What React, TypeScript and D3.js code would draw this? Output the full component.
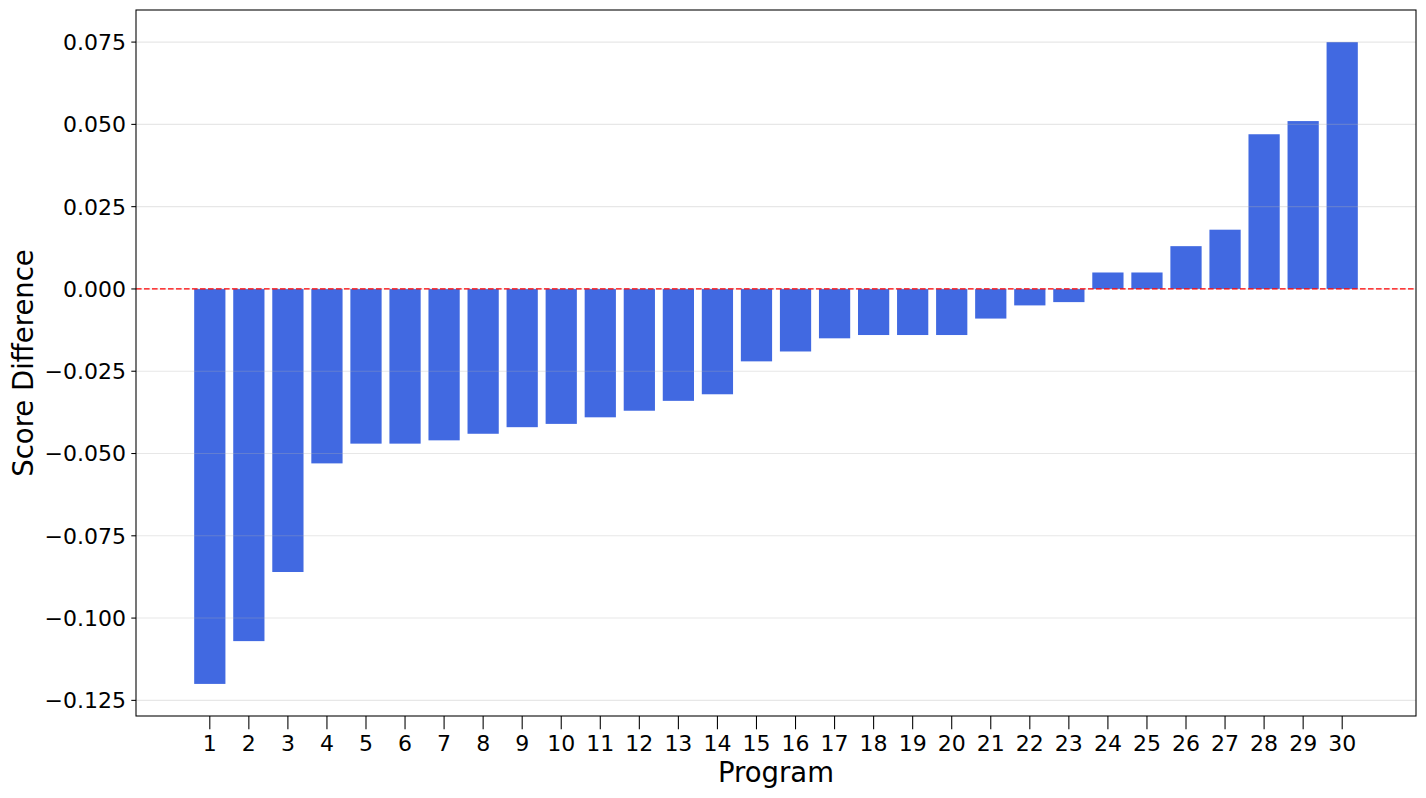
import React from "react";
import * as d3 from "d3";

const programs: number[] = [
  1, 2, 3, 4, 5, 6, 7, 8, 9, 10, 11, 12, 13, 14, 15, 16, 17, 18, 19, 20, 21, 22, 23, 24, 25, 26, 27, 28, 29, 30,
];
const scoreDiffs: number[] = [
  -0.12, -0.107, -0.086, -0.053, -0.047, -0.047, -0.046, -0.044, -0.042, -0.041, -0.039, -0.037, -0.034, -0.032,
  -0.022, -0.019, -0.015, -0.014, -0.014, -0.014, -0.009, -0.005, -0.004, 0.005, 0.005, 0.013, 0.018, 0.047, 0.051,
  0.075,
];
const yTicks: number[] = [-0.125, -0.1, -0.075, -0.05, -0.025, 0, 0.025, 0.05, 0.075];
const xLabel = "Program";
const yLabel = "Score Difference";

const W = 1426;
const H = 798;
const M = { left: 136, right: 1416, top: 10, bottom: 716 };
const FONT = "'DejaVu Sans', sans-serif";
const BAR_W = 0.8;

export default function App() {
  const xMinData = d3.min(programs)! - BAR_W / 2;
  const xMaxData = d3.max(programs)! + BAR_W / 2;
  const xPad = (xMaxData - xMinData) * 0.05;
  const x = d3.scaleLinear().domain([xMinData - xPad, xMaxData + xPad]).range([M.left, M.right]);

  const yMinData = Math.min(0, d3.min(scoreDiffs)!);
  const yMaxData = Math.max(0, d3.max(scoreDiffs)!);
  const yPad = (yMaxData - yMinData) * 0.05;
  const y = d3.scaleLinear().domain([yMinData - yPad, yMaxData + yPad]).range([M.bottom, M.top]);

  const fmt = (v: number) => d3.format(".3f")(Math.abs(v) < 1e-12 ? 0 : v).replace("-", "\u2212");
  const bw = x(BAR_W) - x(0);

  return (
    <div style={{ position: "fixed", left: 0, top: 0 }}>
      <svg width={W} height={H} style={{ display: "block", background: "#fff" }} fontFamily={FONT}>
        {programs.map((p, i) => {
          const v = scoreDiffs[i];
          return (
            <rect
              key={p}
              x={x(p) - bw / 2}
              y={y(Math.max(0, v))}
              width={bw}
              height={Math.abs(y(v) - y(0))}
              fill="#4169e1"
            />
          );
        })}
        {yTicks.map((t) => (
          <line
            key={"g" + t}
            x1={M.left}
            x2={M.right}
            y1={y(t)}
            y2={y(t)}
            stroke="#b0b0b0"
            strokeOpacity={0.3}
            strokeWidth={1.07}
          />
        ))}
        <line
          x1={M.left}
          x2={M.right}
          y1={y(0)}
          y2={y(0)}
          stroke="red"
          strokeWidth={1.33}
          strokeDasharray="5.6 2.4"
        />
        <rect
          x={M.left}
          y={M.top}
          width={M.right - M.left}
          height={M.bottom - M.top}
          fill="none"
          stroke="#000"
          strokeWidth={1.07}
        />
        {yTicks.map((t) => (
          <g key={"y" + t}>
            <line x1={M.left - 4.7} x2={M.left} y1={y(t)} y2={y(t)} stroke="#000" strokeWidth={1.07} />
            <text x={M.left - 10} y={y(t)} dy="0.36em" textAnchor="end" fontSize={22} fill="#000">
              {fmt(t)}
            </text>
          </g>
        ))}
        {programs.map((p) => (
          <g key={"x" + p}>
            <line x1={x(p)} x2={x(p)} y1={M.bottom} y2={M.bottom + 13.3} stroke="#000" strokeWidth={1.07} />
            <text x={x(p)} y={M.bottom + 34.7} textAnchor="middle" fontSize={22} fill="#000">
              {p}
            </text>
          </g>
        ))}
        <text x={(M.left + M.right) / 2} y={782} textAnchor="middle" fontSize={27.5} fill="#000">
          {xLabel}
        </text>
        <text
          transform={`translate(${33},${(M.top + M.bottom) / 2}) rotate(-90)`}
          textAnchor="middle"
          fontSize={27.5}
          fill="#000"
        >
          {yLabel}
        </text>
      </svg>
    </div>
  );
}
